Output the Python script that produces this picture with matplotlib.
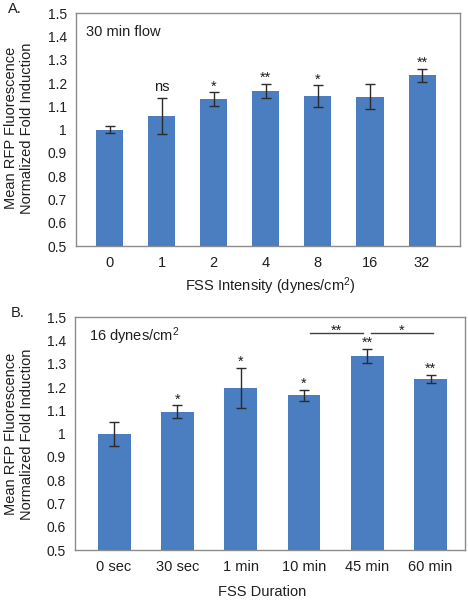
import matplotlib
matplotlib.use("Agg")
import matplotlib.pyplot as plt

plt.rcParams["font.family"] = ["Liberation Sans", "DejaVu Sans"]
plt.rcParams["mathtext.fontset"] = "custom"
plt.rcParams["mathtext.rm"] = "Liberation Sans"
plt.rcParams["mathtext.it"] = "Liberation Sans:italic"

# panel A: FSS intensity, 30 min flow
intensity_labels = ["0", "1", "2", "4", "8", "16", "32"]
intensity_mean = [1.00, 1.06, 1.13, 1.166, 1.144, 1.141, 1.233]
intensity_err = [0.015, 0.077, 0.030, 0.031, 0.046, 0.053, 0.028]
intensity_sig = ["", "ns", "*", "**", "*", "", "**"]

# panel B: FSS duration, 16 dynes/cm2
duration_labels = ["0 sec", "30 sec", "1 min", "10 min", "45 min", "60 min"]
duration_mean = [0.997, 1.094, 1.197, 1.165, 1.334, 1.235]
duration_err = [0.051, 0.027, 0.086, 0.024, 0.030, 0.018]
duration_sig = ["", "*", "*", "*", "**", "**"]

# pairwise comparisons in panel B: (from x, to x, label)
brackets = [(3.1, 3.94, "**"), (4.06, 5.04, "*")]

BAR = "#4A7EC0"
TXT = "#1f1f1f"
FRAME = "#8C8C8C"
FS = 10.5


def style_axes(ax):
    ax.set_ylim(0.5, 1.5)
    ax.set_yticks([0.5, 0.6, 0.7, 0.8, 0.9, 1.0, 1.1, 1.2, 1.3, 1.4, 1.5])
    ax.set_yticklabels(["0.5", "0.6", "0.7", "0.8", "0.9", "1", "1.1", "1.2", "1.3", "1.4", "1.5"])
    ax.tick_params(length=0, labelsize=FS, colors=TXT)
    ax.tick_params(axis="y", pad=6.5, labelsize=10)
    ax.tick_params(axis="x", pad=7)
    for s in ax.spines.values():
        s.set_color(FRAME)
        s.set_linewidth(1.0)


def bar_panel(ax, labels, means, errs, sigs):
    x = list(range(len(labels)))
    ax.bar(x, means, width=0.52, color=BAR, zorder=2)
    ax.errorbar(x, means, yerr=errs, fmt="none", ecolor="#2b2b2b", elinewidth=1.0,
                capsize=3.5, capthick=1.0, zorder=3)
    for xi, m, e, s in zip(x, means, errs, sigs):
        if s == "ns":
            ax.text(xi, m + e + 0.03, s, ha="center", va="baseline", fontsize=FS, color=TXT)
        elif s:
            ax.text(xi, m + e + 0.008, s, ha="center", va="baseline", fontsize=10.5, color=TXT)
    ax.set_xticks(x)
    ax.set_xticklabels(labels)


fig = plt.figure(figsize=(4.68, 6.0), dpi=100)

ax1 = fig.add_axes([0.162, 0.59, 0.821, 0.388])
bar_panel(ax1, intensity_labels, intensity_mean, intensity_err, intensity_sig)
style_axes(ax1)
ax1.set_xlim(-0.65, 6.73)
ax1.text(0.026, 0.918, "30 min flow", transform=ax1.transAxes, fontsize=FS,
         color=TXT, va="center")
fig.text(8 / 468, 1 - 9 / 600, "A.", fontsize=FS, color=TXT, va="center")
fig.text(270 / 468, 1 - 286 / 600, "FSS Intensity (dynes/cm$^{2}$)", fontsize=FS,
         color=TXT, ha="center", va="center")
fig.text(19 / 468, 1 - 128 / 600, "Mean RFP Fluorescence\nNormalized Fold Induction",
         rotation=90, fontsize=FS, color=TXT, ha="center", va="center",
         multialignment="center", linespacing=1.1)

ax2 = fig.add_axes([0.160, 0.0833, 0.833, 0.388])
bar_panel(ax2, duration_labels, duration_mean, duration_err, duration_sig)
style_axes(ax2)
ax2.set_xlim(-0.62, 5.54)
ax2.text(0.035, 0.918, "16 dynes/cm$^{2}$", transform=ax2.transAxes, fontsize=FS,
         color=TXT, va="center")
fig.text(11 / 468, 1 - 313 / 600, "B.", fontsize=FS, color=TXT, va="center")
fig.text(262 / 468, 1 - 592 / 600, "FSS Duration", fontsize=FS,
         color=TXT, ha="center", va="center")
fig.text(19 / 468, 1 - 434 / 600, "Mean RFP Fluorescence\nNormalized Fold Induction",
         rotation=90, fontsize=FS, color=TXT, ha="center", va="center",
         multialignment="center", linespacing=1.1)

for x0, x1, s in brackets:
    ax2.plot([x0, x1], [1.434, 1.434], color="#404040", lw=1.0)
    ax2.text((x0 + x1) / 2, 1.424, s, ha="center", va="baseline", fontsize=10.5, color=TXT)

fig.savefig("out.png", dpi=100)
